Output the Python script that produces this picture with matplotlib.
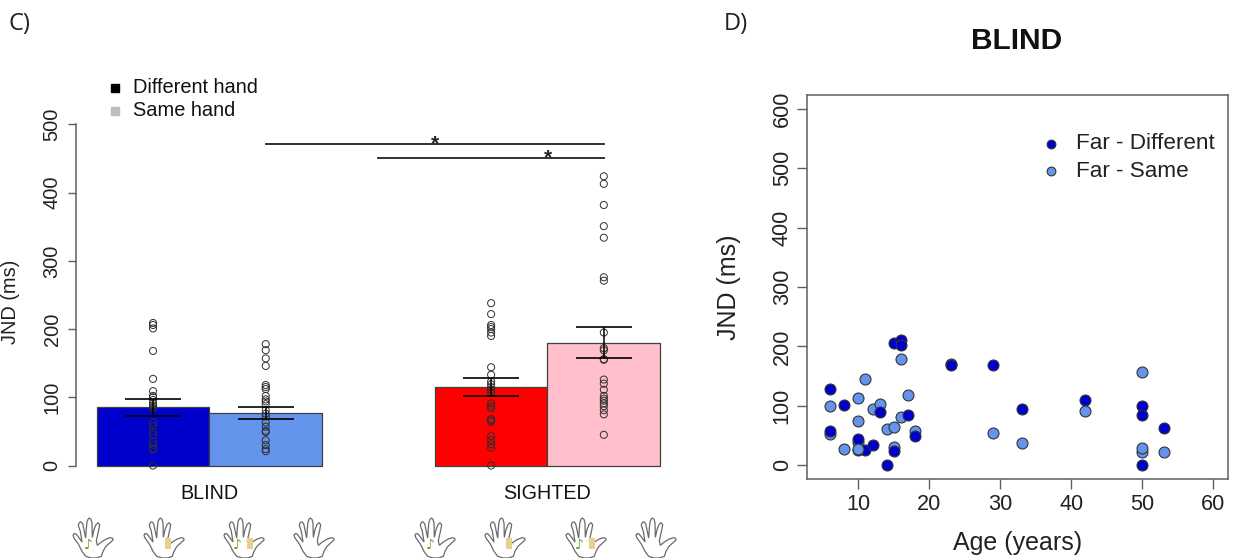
import numpy as np
import matplotlib
matplotlib.use('Agg')
import matplotlib.pyplot as plt
from matplotlib.path import Path
from matplotlib.patches import PathPatch, Rectangle
from matplotlib.lines import Line2D

plt.rcParams['font.family'] = ['Liberation Sans', 'DejaVu Sans']

W, H = 1234, 558
GREY = '#5f5f5f'

# Panel C data
group_labels = ['BLIND', 'SIGHTED']
bar_means = [85.5, 76.5, 115.5, 180]
err_low = [73, 68, 102, 157]
err_high = [98, 86, 129, 203]
bar_colors = ['#0000CD', '#6495ED', '#FF0000', '#FFC0CB']

blind_diff = [209, 206, 201, 168, 127, 109, 102, 100, 96, 91, 88, 85, 83, 63, 58, 50, 45,
              35, 30, 25, 23, 0]
blind_same = [178, 169, 157, 146, 118, 115, 112, 102, 97, 94, 90, 81, 76, 72, 63, 57, 51, 49,
              37, 30, 24, 21]
sighted_diff = [238, 222, 206, 203, 200, 195, 190, 144, 133, 123, 119, 115, 111, 107, 91, 87, 84,
                68, 66, 64, 43, 37, 31, 26, 0]
sighted_same = [424, 413, 382, 351, 334, 276, 271, 195, 172, 169, 156, 155, 126, 120, 111, 102,
                98, 95, 91, 87, 81, 75, 45]
strips = [blind_diff, blind_same, sighted_diff, sighted_same]

# Panel D data
far_diff_age = [6, 8, 6, 10, 10, 11, 12, 13, 14, 15, 16, 16, 15, 17, 18, 23, 29, 33, 42, 50, 50, 50, 53]
far_diff_jnd = [128, 102, 58, 44, 26, 25, 34, 89, 0, 206, 210, 202, 24, 85, 50, 169, 169, 95, 109,
                100, 84, 0, 63]
far_same_age = [6, 6, 8, 10, 10, 10, 11, 12, 13, 14, 15, 15, 16, 16, 17, 18, 23, 29, 33, 50, 50, 50, 53]
far_same_jnd = [52, 99, 27, 75, 114, 40, 146, 94, 103, 61, 64, 30, 178, 81, 119, 58, 170, 54, 37,
                157, 23, 29, 23]
# these two sit above the dark points
top_same_age = [10, 42]
top_same_jnd = [28, 92]

# hand outline (0-120 across, 0-120 down)
hand_x = [38, 27, 16, 3, 0, 3, 8, 14, 27, 22, 16, 18, 23, 29, 38, 40, 42, 45, 49, 54, 57, 58,
          63, 69, 75, 80, 78, 70, 73, 85, 100, 112, 119, 120, 110, 98, 90, 85, 70, 55, 38]
hand_y = [115, 100, 78, 60, 52, 47, 47, 54, 72, 40, 22, 15, 11, 17, 60, 30, 12, 4, 0, 4, 15, 58,
          35, 20, 14, 20, 32, 68, 82, 72, 63, 59, 61, 66, 75, 86, 100, 115, 120, 120, 115]
hand_cx = [93, 164, 244, 314, 435, 505, 586, 656]
hand_kind = ['note', 'patch', 'both', 'none', 'note', 'patch', 'both', 'none']


def fx(px):
    return px / W


def fy(py):
    return 1 - py / H


def draw_hand(fig, cx, kind, top=518):
    pts = [(fx(cx - 20 + x / 3), fy(top + y / 3)) for x, y in zip(hand_x, hand_y)]
    fig.add_artist(PathPatch(Path(pts), fc='white', ec='#6a6a6a', lw=0.9, transform=fig.transFigure))
    if kind in ('note', 'both'):
        off = -5 if kind == 'note' else -7
        fig.text(fx(cx + off), fy(top + 27), '\u266a', color='#5aa832', fontsize=10,
                 family='DejaVu Sans', ha='center', va='center')
    if kind in ('patch', 'both'):
        off = 3 if kind == 'both' else 1
        fig.add_artist(Rectangle((fx(cx + off), fy(top + 31)), 6 / W, 11 / H, fc='#ebcf8e', ec='none',
                                 transform=fig.transFigure))


fig = plt.figure(figsize=(W / 100, H / 100), dpi=100)

# Panel C
ax1 = fig.add_axes([fx(75.5), fy(465.5), (680 - 75.5) / W, 341 / H])
xpos = np.array([1, 2, 4, 5])
ax1.bar(xpos, bar_means, width=1, color=bar_colors, edgecolor='#404040', linewidth=0.9, zorder=2, clip_on=False)
for x, vals in zip(xpos, strips):
    ax1.scatter([x] * len(vals), vals, s=26, facecolors='none', edgecolors='#2f2f2f', linewidths=0.7,
                zorder=3, clip_on=False)
means = np.array(bar_means)
yerr = [means - np.array(err_low), np.array(err_high) - means]
ax1.errorbar(xpos, means, yerr=yerr, fmt='none', ecolor='black', elinewidth=1.1, capsize=20.5,
             capthick=1.2, zorder=4)
ax1.set_xlim(0.312, 5.676)
ax1.set_ylim(0, 500)
for s in ['top', 'right', 'bottom']:
    ax1.spines[s].set_visible(False)
ax1.spines['left'].set_color(GREY)
ax1.spines['left'].set_linewidth(1.1)
ax1.set_xticks([1.5, 4.5], group_labels)
ax1.tick_params(axis='x', length=0, pad=13, labelsize=14.2, labelcolor='#111111')
ax1.set_yticks([0, 100, 200, 300, 400, 500])
ax1.tick_params(axis='y', length=6, width=1, color=GREY, pad=4, labelsize=14.4, labelcolor='#222222')
for t in ax1.get_yticklabels():
    t.set_rotation(90)
    t.set_va('center')
ax1.set_ylabel('JND (ms)', fontsize=14.4, color='#222222')
ax1.yaxis.set_label_coords(-0.092, 0.479)

# significance bars
ax1.plot([2, 5], [471, 471], color='#222222', lw=1.3, clip_on=False)
ax1.plot([3.5 - 0.5 + 0.0, 5], [451, 451], color='#222222', lw=1.3, clip_on=False)
ax1.text(3.5, 471, '*', ha='center', va='center', fontsize=15, weight='bold', color='#222222')
ax1.text(4.5, 451, '*', ha='center', va='center', fontsize=15, weight='bold', color='#222222')

# legend C
fig.add_artist(Line2D([fx(115)], [fy(88)], marker='s', ms=6, color='black', ls='none', transform=fig.transFigure))
fig.add_artist(Line2D([fx(115)], [fy(111)], marker='s', ms=6, color='#BEBEBE', ls='none', transform=fig.transFigure))
fig.text(fx(133), fy(88), 'Different hand', fontsize=14.4, va='center', color='#111111')
fig.text(fx(133), fy(111), 'Same hand', fontsize=14.4, va='center', color='#111111')

# Panel D
ax2 = fig.add_axes([fx(807.3), fy(479.3), (1228.3 - 807.3) / W, (479.3 - 95) / H])
ms = 62
ax2.scatter(far_same_age, far_same_jnd, s=ms, c='#6495ED', edgecolors='#333333', linewidths=0.8, zorder=2, clip_on=False)
ax2.scatter(far_diff_age, far_diff_jnd, s=ms, c='#0000CD', edgecolors='#333333', linewidths=0.8, zorder=3, clip_on=False)
ax2.scatter(top_same_age, top_same_jnd, s=ms, c='#6495ED', edgecolors='#333333', linewidths=0.8, zorder=4, clip_on=False)
ax2.set_xlim(2.81, 62.13)
ax2.set_ylim(-23.6, 623)
for s in ax2.spines.values():
    s.set_color(GREY)
    s.set_linewidth(1.1)
ax2.set_xticks([10, 20, 30, 40, 50, 60])
ax2.set_yticks([0, 100, 200, 300, 400, 500, 600])
ax2.tick_params(axis='both', length=7, width=1, color=GREY, labelsize=15.6, labelcolor='#222222')
for t in ax2.get_yticklabels():
    t.set_rotation(90)
    t.set_va('center')
ax2.set_xlabel('Age (years)', fontsize=18, color='#222222')
ax2.xaxis.set_label_coords((1017.5 - 807.3) / 421, -0.135)
ax2.set_ylabel('JND (ms)', fontsize=18, color='#222222')
ax2.yaxis.set_label_coords(-0.157, 0.5)

ax2.scatter([], [], s=ms, c='#0000CD', edgecolors='#333333', linewidths=0.8, label='Far - Different')
ax2.scatter([], [], s=ms, c='#6495ED', edgecolors='#333333', linewidths=0.8, label='Far - Same')
ax2.legend(loc='upper right', bbox_to_anchor=(1.0, 0.935), frameon=False, fontsize=16.2, handletextpad=0.1,
           labelspacing=0.3, borderaxespad=0.2, labelcolor='#222222', markerscale=0.8)

# titles and panel letters
fig.text(fx(1017), fy(41), 'BLIND', fontsize=21.5, weight='bold', ha='center', va='center', color='#111111')
fig.text(fx(9), fy(24), 'C)', fontsize=17, family='Open Sans', va='center', color='#222222')
fig.text(fx(724), fy(24), 'D)', fontsize=17, family='Open Sans', va='center', color='#222222')

for cx, kind in zip(hand_cx, hand_kind):
    draw_hand(fig, cx, kind)

plt.savefig('out.png', dpi=100)
plt.close()
